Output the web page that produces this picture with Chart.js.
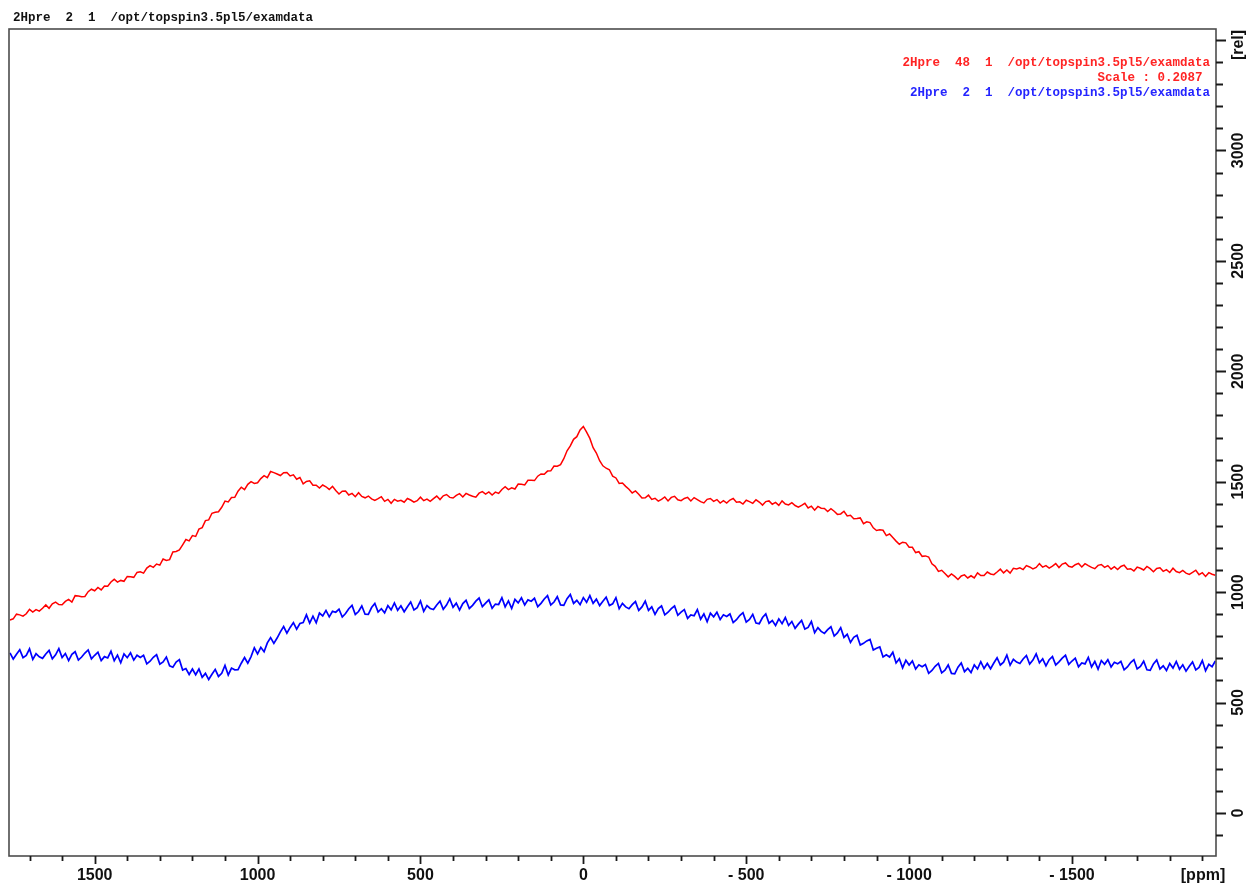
<!DOCTYPE html>
<html>
<head>
<meta charset="utf-8">
<title>2Hpre spectra</title>
<script src="https://cdn.jsdelivr.net/npm/chart.js@4.4.1/dist/chart.umd.min.js"></script>
<style>
  html, body { margin: 0; padding: 0; background: #ffffff; }
  #wrap { width: 1248px; height: 885px; position: relative; }
</style>
</head>
<body>
<div id="wrap"><canvas id="spec" width="1248" height="885"></canvas></div>
<script>
// Sampling grid of both spectra (ppm), first point and spacing
const ppmStart = 1760;
const ppmStep = -10;

// 2Hpre 48 1, scaled by 0.2087 (rows of ten points, 100 ppm per row)
const redSpectrum = [
  874,879,900,897,891,902,922,910,921,914,
  927,942,927,947,955,944,943,958,967,955,
  984,982,979,980,1002,1013,1006,1021,1010,1028,
  1027,1046,1058,1045,1053,1049,1071,1070,1067,1089,
  1092,1086,1109,1120,1112,1127,1122,1150,1143,1147,
  1182,1184,1191,1214,1238,1232,1256,1252,1285,1292,
  1324,1327,1357,1362,1364,1384,1412,1408,1428,1429,
  1457,1475,1464,1488,1500,1492,1495,1514,1527,1518,
  1546,1541,1535,1528,1541,1542,1526,1531,1511,1519,
  1490,1501,1504,1484,1484,1471,1485,1477,1465,1479,
  1460,1444,1457,1458,1440,1447,1432,1450,1433,1427,
  1435,1422,1415,1423,1432,1411,1420,1402,1420,1412,
  1416,1407,1424,1417,1407,1414,1430,1414,1421,1411,
  1423,1435,1419,1436,1442,1429,1426,1438,1446,1431,
  1447,1440,1434,1430,1448,1455,1444,1454,1440,1453,
  1447,1465,1477,1464,1472,1467,1489,1488,1485,1506,
  1506,1505,1525,1535,1534,1548,1549,1571,1570,1577,
  1604,1640,1662,1692,1704,1734,1750,1724,1696,1654,
  1630,1595,1572,1561,1554,1525,1517,1492,1494,1479,
  1466,1449,1458,1443,1426,1427,1439,1420,1425,1412,
  1420,1431,1413,1429,1434,1418,1414,1424,1429,1413,
  1428,1419,1410,1404,1420,1424,1411,1419,1403,1414,
  1403,1417,1424,1407,1409,1399,1416,1410,1402,1418,
  1408,1394,1410,1413,1398,1406,1393,1413,1399,1395,
  1405,1392,1385,1393,1402,1381,1389,1371,1388,1380,
  1379,1365,1378,1366,1352,1354,1366,1345,1348,1332,
  1333,1336,1310,1318,1315,1291,1279,1282,1280,1256,
  1263,1247,1231,1217,1226,1223,1203,1203,1179,1183,
  1162,1164,1159,1128,1117,1094,1099,1084,1069,1082,
  1071,1057,1073,1078,1064,1074,1064,1087,1075,1075,
  1091,1082,1079,1091,1104,1087,1100,1086,1108,1105,
  1110,1102,1120,1114,1105,1112,1129,1113,1120,1109,
  1118,1129,1111,1127,1132,1117,1113,1124,1130,1114,
  1129,1120,1112,1106,1121,1125,1112,1120,1104,1115,
  1102,1116,1122,1104,1106,1096,1113,1108,1100,1116,
  1106,1092,1107,1110,1094,1102,1089,1108,1093,1088,
  1098,1086,1080,1089,1099,1079,1088,1071,1088,1081,
  1076
];

// 2Hpre 2 1 (same grid)
const blueSpectrum = [
  725,697,719,739,703,713,743,695,721,707,
  700,720,736,698,716,744,704,722,690,718,
  730,692,706,724,738,698,714,728,690,708,
  702,732,689,715,680,720,703,725,692,714,
  704,714,675,687,705,717,674,684,706,666,
  660,683,694,647,654,627,652,626,652,614,
  632,604,628,650,618,632,668,625,656,648,
  649,678,704,678,708,748,720,750,730,770,
  794,768,792,820,844,814,840,862,832,858,
  862,897,860,891,861,905,892,917,888,913,
  909,923,887,903,925,940,899,912,937,900,
  899,930,949,910,925,906,939,920,951,918,
  938,911,934,955,919,930,960,913,939,926,
  921,942,959,922,941,970,931,950,919,948,
  963,926,940,959,973,934,950,965,927,946,
  944,975,933,960,926,967,951,974,942,965,
  959,972,934,949,969,984,942,955,979,942,
  940,970,989,949,963,943,975,954,984,949,
  968,939,959,977,939,947,975,925,949,933,
  925,943,957,917,933,959,917,933,899,925,
  937,897,909,925,937,895,909,921,881,897,
  893,921,877,901,866,905,888,909,876,897,
  890,901,862,875,894,907,864,876,899,860,
  857,885,901,859,871,849,879,857,885,849,
  867,836,855,872,833,840,867,816,839,822,
  813,830,843,801,815,839,795,809,772,795,
  804,760,768,779,786,738,746,752,706,716,
  706,728,679,698,657,691,670,688,652,671,
  662,672,632,645,664,677,634,646,670,632,
  630,660,679,640,655,636,670,652,685,654,
  677,653,679,703,670,683,715,669,696,683,
  677,697,713,674,692,720,680,698,666,694,
  708,670,684,701,714,673,688,701,662,679,
  675,704,661,686,651,690,673,694,661,682,
  675,686,648,661,681,694,652,663,687,648,
  646,675,693,652,666,645,677,656,686,651,
  671,642,664,684,648,659,690,644,673,662,
  688
];

// Axis extents and labelled ticks
const ppmLeft = 1763;
const ppmRight = -1942;
const relMin = -195;
const relMax = 3550;
const ppmLabels = [1500, 1000, 500, 0, -500, -1000, -1500];
const relLabels = [0, 500, 1000, 1500, 2000, 2500, 3000];

// Header and overlay captions
const headerText = '2Hpre  2  1  /opt/topspin3.5pl5/examdata';
const overlayCaptions = [
  { text: '2Hpre  48  1  /opt/topspin3.5pl5/examdata', color: '#ff2424' },
  { text: 'Scale : 0.2087 ', color: '#ff2424' },
  { text: '2Hpre  2  1  /opt/topspin3.5pl5/examdata', color: '#2424ff' }
];

const toPoints = vals => vals.map((v, i) => ({ x: ppmStart + i * ppmStep, y: v }));
const ppmText = v => (v < 0 ? '- ' + Math.abs(v) : String(v));

const MONO = '"Liberation Mono", "Courier New", monospace';
const SANS = '"Liberation Sans", Arial, Helvetica, sans-serif';

// Frame, two-length tick marks, tick labels, unit labels and captions
const topspinFrame = {
  id: 'topspinFrame',
  afterDraw(chart) {
    const { ctx, chartArea: a, scales: { x, y } } = chart;
    ctx.save();
    // plot frame
    ctx.strokeStyle = '#4d4d4d';
    ctx.lineWidth = 1.6;
    ctx.strokeRect(a.left, a.top, a.right - a.left, a.bottom - a.top);

    // ppm ticks below the frame
    ctx.strokeStyle = '#1a1a1a';
    ctx.lineWidth = 1.8;
    ctx.beginPath();
    for (let v = -1900; v <= 1700; v += 100) {
      const px = Math.round(x.getPixelForValue(v)) + 0.5;
      const len = v % 500 === 0 ? 8 : 5;
      ctx.moveTo(px, a.bottom);
      ctx.lineTo(px, a.bottom + len);
    }
    // rel ticks right of the frame
    for (let v = -100; v <= 3500; v += 100) {
      const py = Math.round(y.getPixelForValue(v)) + 0.5;
      const len = v % 500 === 0 ? 10 : 7;
      ctx.moveTo(a.right, py);
      ctx.lineTo(a.right + len, py);
    }
    ctx.stroke();

    // tick labels
    ctx.fillStyle = '#111111';
    ctx.font = 'bold 16px ' + SANS;
    ctx.textAlign = 'center';
    ctx.textBaseline = 'middle';
    ppmLabels.forEach(v => {
      ctx.fillText(ppmText(v), x.getPixelForValue(v), a.bottom + 20);
    });
    ctx.fillText('[ppm]', a.right - 13, a.bottom + 20);
    relLabels.forEach(v => {
      ctx.save();
      ctx.translate(a.right + 23, y.getPixelForValue(v));
      ctx.rotate(-Math.PI / 2);
      ctx.fillText(String(v), 0, 0);
      ctx.restore();
    });
    ctx.save();
    ctx.translate(a.right + 23, a.top + 16);
    ctx.rotate(-Math.PI / 2);
    ctx.fillText('[rel]', 0, 0);
    ctx.restore();

    // header line
    ctx.font = 'bold 12.5px ' + MONO;
    ctx.textAlign = 'left';
    ctx.fillStyle = '#111111';
    ctx.fillText(headerText, 13, 18);

    // overlay captions, right aligned inside the frame
    ctx.textAlign = 'right';
    overlayCaptions.forEach((c, i) => {
      ctx.fillStyle = c.color;
      ctx.fillText(c.text, a.right - 6, a.top + 34 + i * 15);
    });
    ctx.restore();
  }
};

new Chart(document.getElementById('spec'), {
  type: 'line',
  data: {
    datasets: [
      {
        label: '2Hpre 48 1',
        data: toPoints(redSpectrum),
        borderColor: '#ff0000',
        borderWidth: 1.5,
        pointRadius: 0,
        tension: 0,
        fill: false
      },
      {
        label: '2Hpre 2 1',
        data: toPoints(blueSpectrum),
        borderColor: '#0000ff',
        borderWidth: 1.7,
        pointRadius: 0,
        tension: 0,
        fill: false
      }
    ]
  },
  options: {
    responsive: false,
    animation: false,
    devicePixelRatio: 1,
    layout: { padding: { left: 9, top: 29, right: 0, bottom: 0 } },
    plugins: { legend: { display: false }, tooltip: { enabled: false } },
    scales: {
      x: {
        type: 'linear',
        position: 'bottom',
        reverse: true,
        min: ppmRight,
        max: ppmLeft,
        grid: { display: false, drawTicks: false },
        border: { display: false },
        ticks: { display: false, stepSize: 500 },
        afterFit: s => { s.height = 29; }
      },
      y: {
        type: 'linear',
        position: 'right',
        min: relMin,
        max: relMax,
        grid: { display: false, drawTicks: false },
        border: { display: false },
        ticks: { display: false, stepSize: 500 },
        afterFit: s => { s.width = 32; }
      }
    }
  },
  plugins: [topspinFrame]
});
</script>
</body>
</html>
